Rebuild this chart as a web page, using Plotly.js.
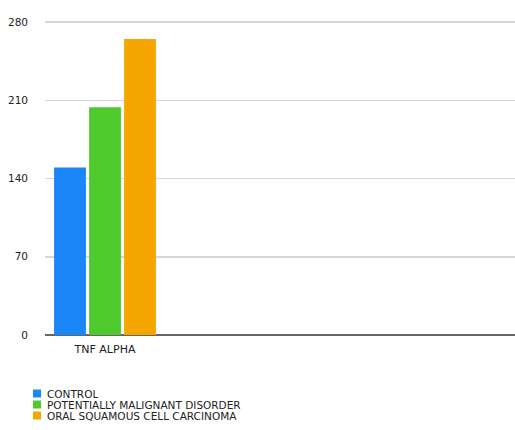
<!DOCTYPE html>
<html>
<head>
<meta charset="utf-8">
<script src="https://cdn.plot.ly/plotly-3.0.1.min.js"></script>
<style>html,body{margin:0;padding:0;background:#fff;}#chart{width:515px;height:430px;}</style>
</head>
<body>
<div id="chart"></div>
<script>
// Data
const categories = ['TNF ALPHA'];
const seriesNames = ['CONTROL', 'POTENTIALLY MALIGNANT DISORDER', 'ORAL SQUAMOUS CELL CARCINOMA'];
const controlValues = [150];
const pmdValues = [204];
const osccValues = [265];
const yTicks = [0, 70, 140, 210, 280];

const seriesValues = [controlValues, pmdValues, osccValues];
const colors = ['#1a86f7', '#4ec92e', '#f5a700'];

const W = 515, H = 430;
const yMax = 282;
const mL = 45, mR = 0, mB = 95;
const pxPerUnit = 313 / 280;
const mT = 335 - Math.round(yMax * pxPerUnit);
const pw = W - mL - mR, ph = H - mT - mB;
const FONT = 'DejaVu Sans, Arial, sans-serif';

const traces = seriesNames.map((name, i) => ({
  type: 'bar',
  name: name,
  x: categories,
  y: seriesValues[i],
  marker: {color: colors[i], line: {width: 0}},
  showlegend: false,
  hoverinfo: 'none'
}));

// legend built from series names/colours (pixel -> paper)
const toPX = px => (px - mL) / pw;
const toPY = py => (H - mB - py) / ph;
const legendX = 33, legendTop = 389.5, legendStep = 11, sw = 8;
const shapes = [];
const annotations = [];
seriesNames.forEach((name, i) => {
  const y0 = legendTop + i * legendStep;
  shapes.push({type: 'rect', xref: 'paper', yref: 'paper',
    x0: toPX(legendX), x1: toPX(legendX + sw), y0: toPY(y0 + sw), y1: toPY(y0),
    fillcolor: colors[i], line: {width: 0}});
  annotations.push({xref: 'paper', yref: 'paper', x: toPX(legendX + 13), y: toPY(y0 + sw / 2),
    xanchor: 'left', yanchor: 'middle', showarrow: false, text: name,
    height: 10, borderpad: 0, valign: 'middle',
    font: {family: FONT, size: 10.5, color: '#222'}});
});

const layout = {
  width: W, height: H,
  margin: {l: mL, r: mR, t: mT, b: mB, pad: 0},
  paper_bgcolor: '#fff', plot_bgcolor: '#fff',
  showlegend: false,
  barmode: 'group',
  bargap: 0.125,
  bargroupgap: 0.09,
  xaxis: {
    type: 'category',
    range: [-0.5, -0.5 + pw / 120],
    showgrid: false, zeroline: false,
    showline: false,
    ticks: '',
    ticklabelstandoff: 6,
    tickfont: {family: FONT, size: 11, color: '#222'},
    fixedrange: true
  },
  yaxis: {
    range: [0, yMax],
    tickvals: yTicks,
    ticktext: yTicks.map(String),
    showgrid: true, gridcolor: '#d6d6d6', gridwidth: 1.5,
    zeroline: true, zerolinecolor: '#666', zerolinewidth: 2,
    showline: false, ticks: '',
    ticklabelstandoff: 16,
    tickfont: {family: FONT, size: 10.5, color: '#222'},
    fixedrange: true
  },
  shapes: shapes,
  annotations: annotations
};

Plotly.newPlot('chart', traces, layout, {displayModeBar: false, staticPlot: true});
</script>
</body>
</html>
